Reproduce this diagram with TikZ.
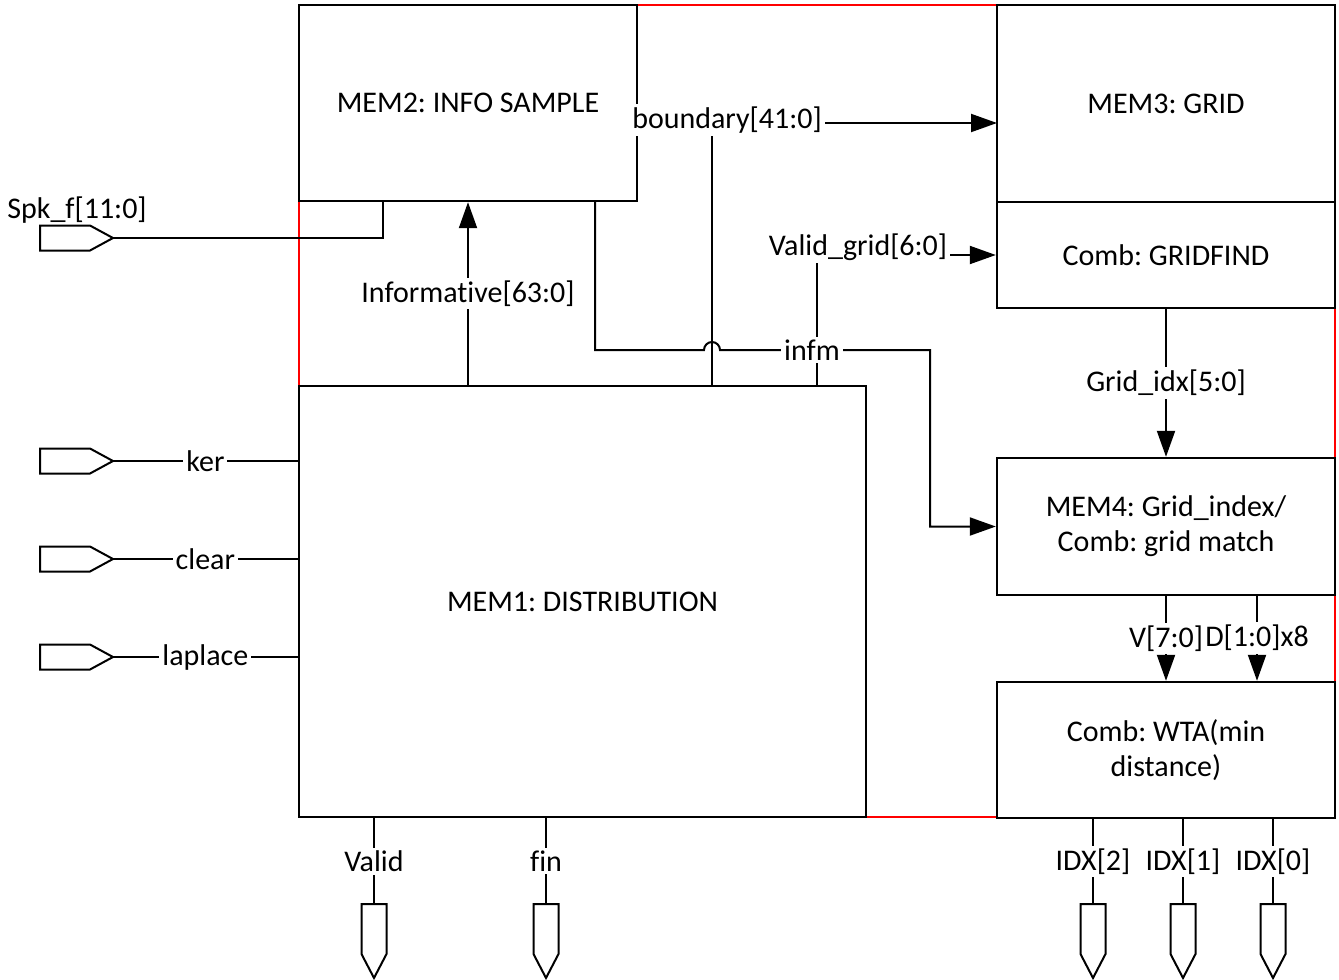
\documentclass[tikz,border=0pt]{standalone}
\usepackage{fontspec}
\setmainfont{Carlito}[Ligatures=NoCommon]
\usetikzlibrary{arrows.meta}
\frenchspacing

\tikzset{
	block/.style={draw, fill=white, line width=1.2pt, align=center, inner sep=0pt},
	wire/.style={line width=1pt},
	arr/.style={wire, -{Triangle[length=13pt,width=9pt]}},
	wlabel/.style={fill=white, inner sep=1.5pt},
	inport/.pic={
		\draw[line width=1pt, fill=white] (0,-12.5) -- (50,-12.5) -- (73,0) -- (50,12.5) -- (0,12.5) -- cycle;
		\coordinate (-tip) at (73,0);
	},
	outport/.pic={
		\draw[line width=1pt, fill=white] (-12.5,0) -- (12.5,0) -- (12.5,50) -- (0,74) -- (-12.5,50) -- cycle;
		\coordinate (-top) at (0,0);
	}
}

\begin{document}
\begin{tikzpicture}[x=0.5pt, y=-0.5pt, font=\fontsize{15pt}{17.5pt}\selectfont]
	\useasboundingbox (0,0) rectangle (1339,980);

	% frame
	\draw[red, line width=1pt] (299,5) rectangle (1335,817);

	% blocks
	\node[block, minimum width=169pt, minimum height=98pt] (mem2) at (468,103) {MEM2: INFO SAMPLE};
	\node[block, minimum width=169pt, minimum height=98.5pt] (mem3) at (1166,103.5) {MEM3: GRID};
	\node[block, minimum width=169pt, minimum height=53pt] (gfind) at (1166,255) {Comb: GRIDFIND};
	\node[block, minimum width=169pt, minimum height=68.5pt] (mem4) at (1166,526.5) {MEM4: Grid\_index/\\Comb: grid match};
	\node[block, minimum width=169pt, minimum height=68pt] (wta) at (1166,750) {Comb: WTA(min\\distance)};
	\node[block, minimum width=283.5pt, minimum height=215.5pt] (mem1) at (582.5,601.5) {MEM1: DISTRIBUTION};

	% ports
	\node (lspk) at (77,210) {Spk\_f[11:0]};
	\pic (pspk) at (40,238) {inport};
	\pic (pker) at (40,461) {inport};
	\pic (pclr) at (40,559) {inport};
	\pic (plap) at (40,657) {inport};
	\foreach \n/\x in {pvalid/374, pfin/546, pidx2/1093, pidx1/1183, pidx0/1273}
		\pic (\n) at (\x,904) {outport};

	\coordinate (spkin) at (383,201);
	\coordinate (infmout) at (595,201);
	\coordinate (tapB) at (712,386);
	\coordinate (tapV) at (817,386);
	\coordinate (bndin) at (997,123);
	\coordinate (dout) at (1257,595);

	% inputs
	\draw[wire] (pspk-tip) -| (spkin);
	\draw[wire] (pker-tip) -- node[wlabel] {ker} (pker-tip -| mem1.west);
	\draw[wire] (pclr-tip) -- node[wlabel] {clear} (pclr-tip -| mem1.west);
	\draw[wire] (plap-tip) -- node[wlabel] {laplace} (plap-tip -| mem1.west);

	% internal buses
	\draw[arr] (mem1.north -| mem2.south) -- node[wlabel] {Informative[63:0]} (mem2.south);
	\draw[arr] (tapB) |- node[wlabel, xshift=7.5pt, yshift=1.5pt] {boundary[41:0]} (bndin);
	\draw[arr] (tapV) |- node[wlabel, xshift=20.5pt, yshift=4pt] {Valid\_grid[6:0]} (gfind.west);
	\draw[arr] (infmout) -- (595,350) -- (704,350) arc[start angle=180, end angle=0, radius=4pt]
		-- (930,350) |- (mem4.west);
	\node[wlabel] (infm) at (812,350) {infm};
	\draw[arr] (gfind.south) -- node[wlabel] {Grid\_idx[5:0]} (mem4.north);
	\draw[arr] (mem4.south) -- node[wlabel] {V[7:0]} (wta.north);
	\draw[arr] (dout) -- node[wlabel] {D[1:0]x8} (dout |- wta.north);

	% outputs
	\draw[wire] (mem1.south -| pvalid-top) -- node[wlabel] {Valid} (pvalid-top);
	\draw[wire] (mem1.south -| pfin-top) -- node[wlabel] {fin} (pfin-top);
	\draw[wire] (wta.south -| pidx2-top) -- node[wlabel] {IDX[2]} (pidx2-top);
	\draw[wire] (wta.south -| pidx1-top) -- node[wlabel] {IDX[1]} (pidx1-top);
	\draw[wire] (wta.south -| pidx0-top) -- node[wlabel] {IDX[0]} (pidx0-top);
\end{tikzpicture}
\end{document}
